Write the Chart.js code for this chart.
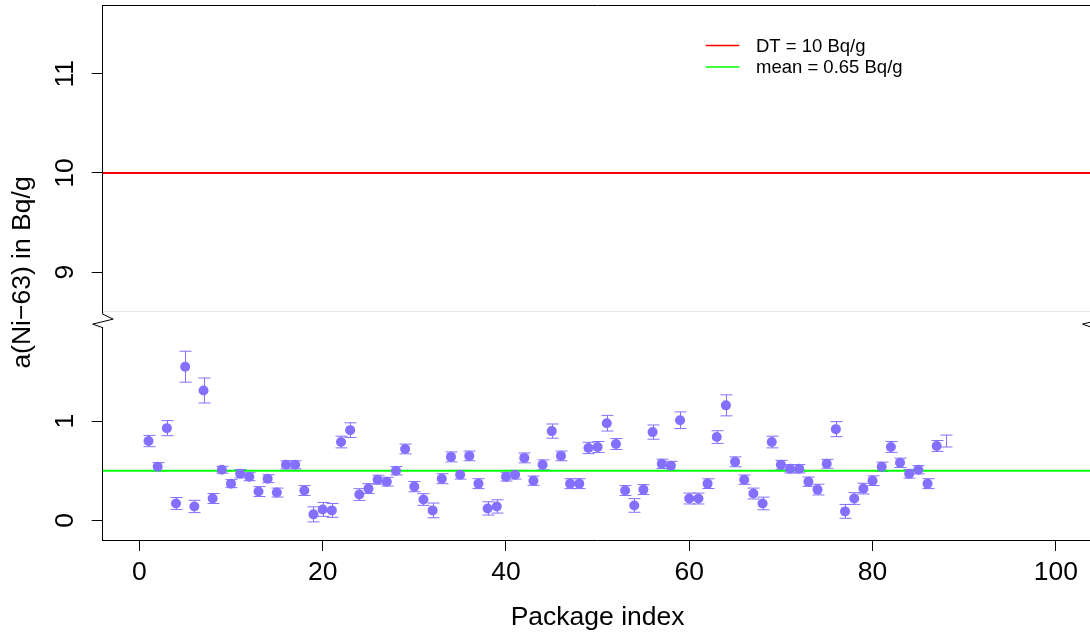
<!DOCTYPE html>
<html>
<head>
<meta charset="utf-8">
<script src="https://cdn.jsdelivr.net/npm/chart.js@4.4.0/dist/chart.umd.min.js"></script>
<style>
  html, body { margin: 0; padding: 0; background: #fff; overflow: hidden; }
  #wrap { width: 1100px; height: 635px; }
</style>
</head>
<body>
<div id="wrap"><canvas id="chart" width="1100" height="635"></canvas></div>
<script>
// package numbers on the x axis
const packageIndex = [
  1, 2, 3, 4, 5, 6, 7, 8, 9, 10, 11, 12, 13, 14, 15, 16, 17, 18, 19, 20,
  21, 22, 23, 24, 25, 26, 27, 28, 29, 30, 31, 32, 33, 34, 35, 36, 37, 38, 39, 40,
  41, 42, 43, 44, 45, 46, 47, 48, 49, 50, 51, 52, 53, 54, 55, 56, 57, 58, 59, 60,
  61, 62, 63, 64, 65, 66, 67, 68, 69, 70, 71, 72, 73, 74, 75, 76, 77, 78, 79, 80,
  81, 82, 83, 84, 85, 86, 87, 88
]

// a(Ni-63) in Bq/g
const activity = [
  0.80, 0.54, 0.93, 0.17, 1.55, 0.14, 1.31, 0.22, 0.51, 0.37,
  0.47, 0.44, 0.29, 0.42, 0.28, 0.56, 0.56, 0.30, 0.06, 0.11,
  0.10, 0.79, 0.91, 0.26, 0.32, 0.41, 0.39, 0.50, 0.72, 0.34,
  0.21, 0.10, 0.42, 0.64, 0.46, 0.65, 0.37, 0.12, 0.14, 0.44,
  0.46, 0.63, 0.40, 0.56, 0.90, 0.65, 0.37, 0.37, 0.73, 0.74,
  0.98, 0.77, 0.30, 0.15, 0.31, 0.89, 0.57, 0.55, 1.01, 0.22,
  0.22, 0.37, 0.84, 1.16, 0.59, 0.41, 0.27, 0.17, 0.79, 0.56,
  0.52, 0.52, 0.39, 0.31, 0.57, 0.92, 0.09, 0.22, 0.32, 0.40,
  0.54, 0.74, 0.58, 0.47, 0.51, 0.37, 0.75, 0.80
]

// +/- uncertainty of each value
const uncert = [
  0.057, 0.042, 0.076, 0.060, 0.156, 0.062, 0.126, 0.050, 0.034, 0.040,
  0.042, 0.040, 0.050, 0.040, 0.045, 0.040, 0.040, 0.050, 0.076, 0.070,
  0.070, 0.059, 0.074, 0.059, 0.050, 0.045, 0.044, 0.042, 0.049, 0.052,
  0.059, 0.074, 0.050, 0.050, 0.044, 0.049, 0.050, 0.067, 0.067, 0.044,
  0.044, 0.050, 0.047, 0.050, 0.072, 0.049, 0.050, 0.050, 0.057, 0.055,
  0.079, 0.055, 0.050, 0.069, 0.050, 0.072, 0.047, 0.045, 0.084, 0.055,
  0.055, 0.049, 0.064, 0.106, 0.050, 0.047, 0.055, 0.064, 0.059, 0.045,
  0.042, 0.042, 0.047, 0.054, 0.045, 0.076, 0.070, 0.059, 0.054, 0.049,
  0.047, 0.055, 0.047, 0.044, 0.042, 0.050, 0.055, 0.060
]

// packages drawn with an error bar only, no marker
const noMarker = [88]

const dtValue = 10
const dtLabel = "DT = 10 Bq/g"
const meanLevel = 0.5
const meanLabel = "mean = 0.65 Bq/g"

const xTicks = [0, 20, 40, 60, 80, 100]
const yTicks = [0, 1, 9, 10, 11]

// broken y axis: everything above the gap is moved down by gapShift
const gapTop = 2.1
const gapShift = 6.495
const breakAt = 2.02

function toAxis(v) {
  return v > gapTop ? v - gapShift : v
}

const ptColor = "#8470FF"
const font = "'Liberation Sans', Arial, Helvetica, sans-serif"

const points = packageIndex.map((x, i) => ({ x: x, y: activity[i] }))

let errorBars = {
  id: "errorBars",
  beforeDatasetsDraw(chart) {
    let ctx = chart.ctx
    let xs = chart.scales.x
    let ys = chart.scales.y
    ctx.save()
    ctx.strokeStyle = ptColor
    ctx.lineWidth = 1
    for (let i = 0; i < packageIndex.length; i++) {
      let px = Math.round(xs.getPixelForValue(packageIndex[i])) + 0.5
      let top = ys.getPixelForValue(toAxis(activity[i] + uncert[i]))
      let bot = ys.getPixelForValue(toAxis(activity[i] - uncert[i]))
      ctx.beginPath()
      ctx.moveTo(px, top)
      ctx.lineTo(px, bot)
      ctx.moveTo(px - 6, top)
      ctx.lineTo(px + 6, top)
      ctx.moveTo(px - 6, bot)
      ctx.lineTo(px + 6, bot)
      ctx.stroke()
    }
    ctx.restore()
  }
}

let axisBreak = {
  id: "axisBreak",
  afterDraw(chart) {
    let ctx = chart.ctx
    let area = chart.chartArea
    let ys = chart.scales.y
    let yb = ys.getPixelForValue(breakAt)
    ctx.save()

    // box top
    ctx.strokeStyle = "#000"
    ctx.lineWidth = 1
    ctx.beginPath()
    ctx.moveTo(area.left, Math.round(area.top) + 0.5)
    ctx.lineTo(area.right, Math.round(area.top) + 0.5)
    ctx.stroke()

    // faint line at the bottom of the upper panel
    ctx.strokeStyle = "#e6e6e6"
    ctx.beginPath()
    ctx.moveTo(area.left + 1, Math.round(yb - 9) + 0.5)
    ctx.lineTo(area.right, Math.round(yb - 9) + 0.5)
    ctx.stroke()

    // cut the axis lines and put zigzags there
    for (let ax of [area.left, area.right]) {
      ctx.fillStyle = "#fff"
      ctx.fillRect(ax - 2, yb - 7, 4, 14)
      ctx.strokeStyle = "#000"
      ctx.beginPath()
      ctx.moveTo(ax, yb - 8)
      ctx.lineTo(ax, yb - 6)
      ctx.lineTo(ax + 10.5, yb - 1)
      ctx.lineTo(ax - 10, yb + 4)
      ctx.lineTo(ax, yb + 7.5)
      ctx.lineTo(ax, yb + 8)
      ctx.stroke()
    }

    // legend
    let items = [
      { label: dtLabel, color: "#FF0000" },
      { label: meanLabel, color: "#00FF00" }
    ]
    ctx.font = "18.5px " + font
    ctx.textBaseline = "middle"
    ctx.textAlign = "left"
    items.forEach((it, k) => {
      let ly = 45.5 + k * 21.4
      ctx.strokeStyle = it.color
      ctx.lineWidth = 1.5
      ctx.beginPath()
      ctx.moveTo(705.7, ly)
      ctx.lineTo(739.3, ly)
      ctx.stroke()
      ctx.fillStyle = "#000"
      ctx.fillText(it.label, 756, ly + 1)
    })
    ctx.restore()
  }
}

let chart = new Chart(document.getElementById("chart"), {
  type: "scatter",
  data: {
    datasets: [
      {
        label: "a(Ni-63)",
        data: points,
        backgroundColor: ptColor,
        borderWidth: 0,
        pointRadius: ctx => noMarker.includes(packageIndex[ctx.dataIndex]) ? 0 : 5,
        showLine: false
      },
      {
        type: "line",
        label: dtLabel,
        data: [{ x: -4, y: toAxis(dtValue) }, { x: 104, y: toAxis(dtValue) }],
        borderColor: "#FF0000",
        borderWidth: 2,
        pointRadius: 0
      },
      {
        type: "line",
        label: meanLabel,
        data: [{ x: -4, y: meanLevel }, { x: 104, y: meanLevel }],
        borderColor: "#00FF00",
        borderWidth: 2,
        pointRadius: 0
      }
    ]
  },
  options: {
    responsive: false,
    animation: false,
    layout: { padding: { left: 0, top: 4.5, right: 7.5, bottom: 0 } },
    plugins: {
      legend: { display: false },
      tooltip: { enabled: false }
    },
    scales: {
      x: {
        type: "linear",
        min: -4,
        max: 104,
        afterBuildTicks: s => { s.ticks = xTicks.map(v => ({ value: v })) },
        afterFit: s => {
          s.height = 95
          s.paddingLeft = 0
          s.paddingRight = 0
        },
        grid: { drawOnChartArea: false, tickLength: 11, color: "#000" },
        border: { color: "#000", width: 1 },
        ticks: {
          color: "#000",
          font: { family: font, size: 26.5 },
          padding: 6,
          maxRotation: 0,
          autoSkip: false
        },
        title: {
          display: true,
          text: "Package index",
          color: "#000",
          font: { family: font, size: 26.5 },
          padding: { top: 0, bottom: 1.3 }
        }
      },
      y: {
        type: "linear",
        min: -0.1986,
        max: 5.1996,
        afterBuildTicks: s => { s.ticks = yTicks.map(v => ({ value: toAxis(v) })) },
        afterFit: s => {
          s.width = 102.7
          s.paddingTop = 0
          s.paddingBottom = 0
        },
        grid: { drawOnChartArea: false, tickLength: 11, color: "#000" },
        border: { color: "#000", width: 1 },
        ticks: {
          color: "#000",
          font: { family: font, size: 26.5 },
          padding: 11,
          minRotation: 90,
          maxRotation: 90,
          crossAlign: "center",
          autoSkip: false,
          callback: (v, i) => String(yTicks[i])
        },
        title: {
          display: true,
          text: "a(Ni\u221263) in Bq/g",
          color: "#000",
          font: { family: font, size: 26.5 },
          padding: { top: 7.2, bottom: 0 }
        }
      }
    }
  },
  plugins: [errorBars, axisBreak]
})
</script>
</body>
</html>
